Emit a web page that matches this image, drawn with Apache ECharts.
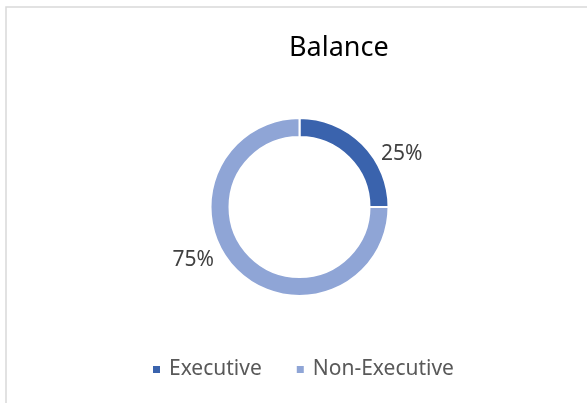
<!DOCTYPE html>
<html>
<head>
<meta charset="utf-8">
<script src="https://cdn.jsdelivr.net/npm/echarts@6/dist/echarts.min.js"></script>
<style>
  html, body { margin: 0; padding: 0; background: #fff; }
  #main { width: 587px; height: 403px; }
</style>
</head>
<body>
<div id="main"></div>
<script>
var categories = ['Executive', 'Non-Executive'];
var values = [25, 75];
var colors = ['#3a63ad', '#8fa5d6'];

var myChart = echarts.init(document.getElementById('main'));

var pieData = [];
for (var i = 0; i < categories.length; i++) {
  pieData.push({ name: categories[i], value: values[i], itemStyle: { color: colors[i] } });
}

var option = {
  backgroundColor: '#fff',
  animation: false,
  graphic: [{
    type: 'rect',
    shape: { x: 6, y: 7, width: 700, height: 500 },
    style: { fill: 'none', stroke: '#d9d9d9', lineWidth: 1.5 },
    silent: true
  }],
  title: {
    text: 'Balance',
    left: 284,
    top: 30,
    textStyle: { fontFamily: 'Noto Sans', fontSize: 27, fontWeight: 'normal', color: '#000' }
  },
  legend: {
    data: categories,
    left: 151,
    top: 359,
    padding: 0,
    icon: 'rect',
    itemWidth: 9,
    itemHeight: 9,
    itemGap: 33,
    textStyle: { fontFamily: 'Noto Sans', fontSize: 21, color: '#595959', padding: [0, 0, 0, 3] }
  },
  series: [{
    type: 'pie',
    center: [299.5, 207],
    radius: [70, 89],
    startAngle: 90,
    clockwise: true,
    itemStyle: { borderColor: '#fff', borderWidth: 2 },
    label: {
      show: true,
      position: 'outside',
      formatter: '{d}%',
      fontFamily: 'Noto Sans',
      fontSize: 21,
      color: '#404040'
    },
    labelLine: { show: false, length: 8, length2: 6 },
    labelLayout: function (params) {
      return params.dataIndex === 0 ? { dx: 2, dy: 16 } : { dx: -6, dy: -16 };
    },
    data: pieData
  }]
};
myChart.setOption(option);
</script>
</body>
</html>
